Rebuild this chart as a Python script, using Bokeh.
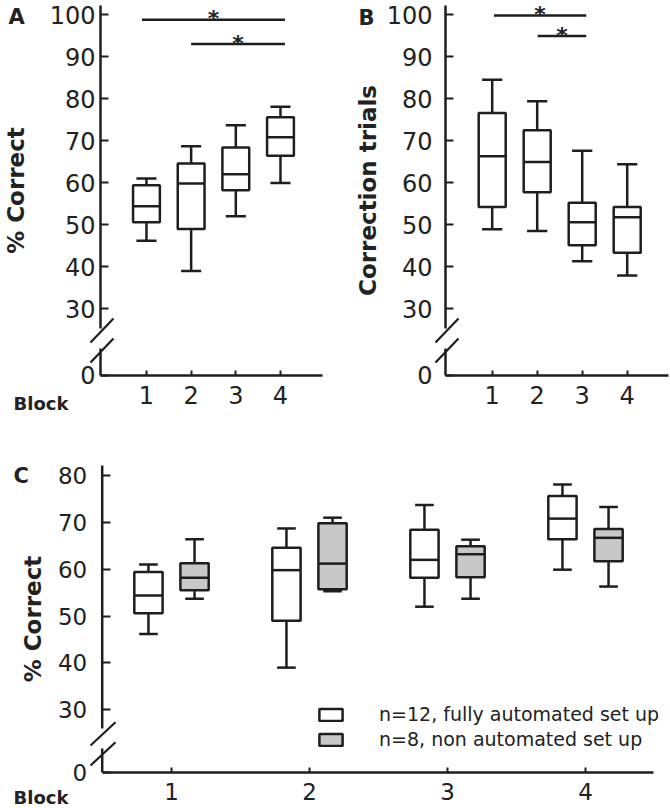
from bokeh.plotting import figure
from bokeh.models import (Range1d, FixedTicker, Label, Legend, LegendItem,
                          ColumnDataSource, LinearAxis)
from bokeh.layouts import column, row
from bokeh.embed import file_html
from bokeh.resources import INLINE
from bokeh.core.properties import value

# ---------------- data ----------------
blocks = [1, 2, 3, 4]
block_labels = ["1", "2", "3", "4"]

# Panel A / C white: % correct, n=12 fully automated set up
auto_min = [46.2, 39.0, 52.0, 59.9]
auto_q1 = [50.6, 49.0, 58.2, 66.4]
auto_med = [54.4, 59.8, 62.0, 70.8]
auto_q3 = [59.4, 64.6, 68.4, 75.6]
auto_max = [61.0, 68.7, 73.7, 78.1]

# Panel B: correction trials
corr_min = [48.9, 48.5, 41.3, 37.9]
corr_q1 = [54.2, 57.7, 45.1, 43.3]
corr_med = [66.3, 64.9, 50.6, 51.8]
corr_q3 = [76.6, 72.5, 55.2, 54.2]
corr_max = [84.5, 79.4, 67.6, 64.4]

# Panel C grey: % correct, n=8 non automated set up
man_min = [53.7, 55.3, 53.7, 56.3]
man_q1 = [55.5, 55.7, 58.3, 61.7]
man_med = [58.2, 61.2, 63.2, 66.7]
man_q3 = [61.3, 69.8, 64.9, 68.6]
man_max = [66.4, 71.0, 66.3, 73.3]

# significance bars
a_sig_x0 = [0.9, 2.0]
a_sig_x1 = [4.1, 4.1]
a_sig_y = [98.8, 93.0]
b_sig_x0 = [1.04, 2.01]
b_sig_x1 = [3.09, 3.09]
b_sig_y = [99.8, 94.9]

ab_yticks = [30, 40, 50, 60, 70, 80, 90, 100]
c_yticks = [30, 40, 50, 60, 70, 80]
zero_label = "0"
legend_labels = ["n=12, fully automated set up", "n=8, non automated set up"]

# ---------------- style ----------------
INK = "#1e1e1e"
TXT = "#222222"
GREY = "#c8c8c8"
LW = 2.5
FONT = "DejaVu Sans"


class Panel:
    """Maps page pixels of the picture onto the data space of one figure."""

    def __init__(self, ox, oy, w, h, x0_px, sx, yref, yref_px, sy):
        self.ox, self.oy, self.w, self.h = ox, oy, w, h
        self.x0_px, self.sx, self.yref, self.yref_px, self.sy = x0_px, sx, yref, yref_px, sy

    def xv(self, px):
        return (px - self.x0_px) / self.sx

    def yv(self, py):
        return self.yref - (py - self.yref_px) / self.sy

    def fig(self):
        p = figure(width=self.w, height=self.h,
                   x_range=Range1d(self.xv(self.ox), self.xv(self.ox + self.w)),
                   y_range=Range1d(self.yv(self.oy + self.h), self.yv(self.oy)),
                   output_backend="svg", toolbar_location=None,
                   x_axis_location=None, y_axis_location=None,
                   min_border=0)
        p.xgrid.visible = False
        p.ygrid.visible = False
        p.outline_line_color = None
        p.background_fill_color = "white"
        p.border_fill_color = "white"
        return p


def add_axes(p, P, axis_px, base_py, xend_px, ytop_px, gap, slashes, yticks, tick_size,
             ylabel, y_standoff, ylabel_standoff, x_standoff):
    base = round(P.yv(base_py), 2)
    xa = P.xv(axis_px)
    ax = LinearAxis(fixed_location=base, bounds=(xa, P.xv(xend_px)))
    ax.ticker = FixedTicker(ticks=blocks)
    ax.major_label_overrides = {b: l for b, l in zip(blocks, block_labels)}
    ax.axis_line_color = INK
    ax.axis_line_width = LW
    ax.major_tick_in = 5
    ax.major_tick_out = 0
    ax.major_tick_line_color = INK
    ax.major_tick_line_width = 2
    ax.minor_tick_line_color = None
    ax.major_label_text_font = FONT
    ax.major_label_text_font_size = tick_size
    ax.major_label_text_color = TXT
    ax.major_label_standoff = x_standoff
    p.add_layout(ax, "below")

    ay = LinearAxis(fixed_location=xa, bounds=(base, P.yv(ytop_px)))
    ay.ticker = FixedTicker(ticks=[base] + yticks)
    ay.major_label_overrides = {base: zero_label}
    ay.axis_line_color = None
    ay.major_tick_in = 8
    ay.major_tick_out = 0
    ay.major_tick_line_color = INK
    ay.major_tick_line_width = 2
    ay.minor_tick_line_color = None
    ay.major_label_text_font = FONT
    ay.major_label_text_font_size = tick_size
    ay.major_label_text_color = TXT
    ay.major_label_standoff = y_standoff
    ay.axis_label = ylabel
    ay.axis_label_text_font = FONT
    ay.axis_label_text_font_style = "bold"
    ay.axis_label_text_font_size = "23px"
    ay.axis_label_text_color = TXT
    ay.axis_label_standoff = ylabel_standoff
    p.add_layout(ay, "left")

    # broken y axis line
    g_lo, g_hi = gap
    p.segment(x0=[xa, xa], y0=[base, P.yv(g_hi)], x1=[xa, xa], y1=[P.yv(g_lo), P.yv(ytop_px)],
              line_color=INK, line_width=LW)
    p.segment(x0=[P.xv(s[0]) for s in slashes], y0=[P.yv(s[1]) for s in slashes],
              x1=[P.xv(s[2]) for s in slashes], y1=[P.yv(s[3]) for s in slashes],
              line_color=INK, line_width=2.2)


def boxes(p, xs, lo, q1, med, q3, hi, box_w, cap_w, fill):
    src = ColumnDataSource(dict(
        x=xs, lo=lo, q1=q1, med=med, q3=q3, hi=hi,
        cl=[x - cap_w / 2 for x in xs], cr=[x + cap_w / 2 for x in xs],
        bl=[x - box_w / 2 for x in xs], br=[x + box_w / 2 for x in xs]))
    p.segment(x0="x", y0="q3", x1="x", y1="hi", source=src, line_color=INK, line_width=LW)
    p.segment(x0="x", y0="lo", x1="x", y1="q1", source=src, line_color=INK, line_width=LW)
    p.segment(x0="cl", y0="hi", x1="cr", y1="hi", source=src, line_color=INK, line_width=LW)
    p.segment(x0="cl", y0="lo", x1="cr", y1="lo", source=src, line_color=INK, line_width=LW)
    r = p.vbar(x="x", bottom="q1", top="q3", width=box_w, source=src,
               fill_color=fill, line_color=INK, line_width=LW)
    p.segment(x0="bl", y0="med", x1="br", y1="med", source=src, line_color=INK, line_width=LW)
    return r


def sig(p, x0s, x1s, ys):
    src = ColumnDataSource(dict(x0=x0s, x1=x1s, y=ys,
                                xm=[(a + b) / 2 for a, b in zip(x0s, x1s)],
                                t=["*"] * len(ys)))
    p.segment(x0="x0", y0="y", x1="x1", y1="y", source=src, line_color=INK, line_width=LW)
    p.text(x="xm", y="y", text="t", source=src, text_font=value(FONT), text_font_style="bold",
           text_font_size="22px", text_align="center", text_baseline="alphabetic",
           y_offset=-1, text_color=TXT)


def label(p, P, px, py, text, size):
    p.add_layout(Label(x=P.xv(px), y=P.yv(py), text=text, text_font=FONT,
                       text_font_style="bold", text_font_size=size, text_color=TXT,
                       text_baseline="alphabetic", text_align="left"))


TOP_H = 418

# ---------------- panel A ----------------
PA = Panel(0, 0, 335, TOP_H, 101.3, 44.67, 100, 14.2, 4.2)
pA = PA.fig()
add_axes(pA, PA, 100, 375, 322, 5, (348, 328),
         [(90, 342, 113, 318), (90, 362, 113, 338)],
         ab_yticks, "24px", "% Correct", 5, 18, 11)
boxes(pA, blocks, auto_min, auto_q1, auto_med, auto_q3, auto_max, 0.6, 0.45, "white")
sig(pA, a_sig_x0, a_sig_x1, a_sig_y)
label(pA, PA, 8, 16, "A", "21px")
label(pA, PA, 13, 403, "Block", "18px")

# ---------------- panel B ----------------
PB = Panel(335, 0, 335, TOP_H, 446.7, 45.0, 100, 14.2, 4.2)
pB = PB.fig()
add_axes(pB, PB, 445, 375, 668, 5, (348, 328),
         [(435, 342, 458, 318), (435, 362, 458, 338)],
         ab_yticks, "24px", "Correction trials", 13, 3, 11)
boxes(pB, blocks, corr_min, corr_q1, corr_med, corr_q3, corr_max, 0.6, 0.45, "white")
sig(pB, b_sig_x0, b_sig_x1, b_sig_y)
label(pB, PB, 358, 17, "B", "21px")

# ---------------- panel C ----------------
PC = Panel(0, TOP_H, 670, 808 - TOP_H, 33.0, 138.0, 80, 475, 4.686)
pC = PC.fig()
add_axes(pC, PC, 101.7, 771.7, 653, 465, (748, 728),
         [(90, 745, 115, 721.7), (90, 765, 115, 741.7)],
         c_yticks, "23px", "% Correct", 15, 9, 11)
off = 0.167
r_auto = boxes(pC, [b - off for b in blocks], auto_min, auto_q1, auto_med, auto_q3, auto_max,
               0.205, 0.135, "white")
r_man = boxes(pC, [b + off for b in blocks], man_min, man_q1, man_med, man_q3, man_max,
              0.205, 0.135, GREY)
label(pC, PC, 13, 475, "C", "21px")
label(pC, PC, 13, 797, "Block", "18px")

legend = Legend(items=[LegendItem(label=legend_labels[0], renderers=[r_auto]),
                       LegendItem(label=legend_labels[1], renderers=[r_man])],
                location=(316, 58), orientation="vertical",
                glyph_width=29, glyph_height=15, label_standoff=34, label_height=20,
                label_text_font=FONT, label_text_font_size="19px", label_text_color=TXT,
                spacing=3, padding=0, margin=0, border_line_color=None,
                background_fill_alpha=0)
pC.add_layout(legend)

layout = column(row(pA, pB), pC)
open("out.html", "w").write(file_html(layout, INLINE))
